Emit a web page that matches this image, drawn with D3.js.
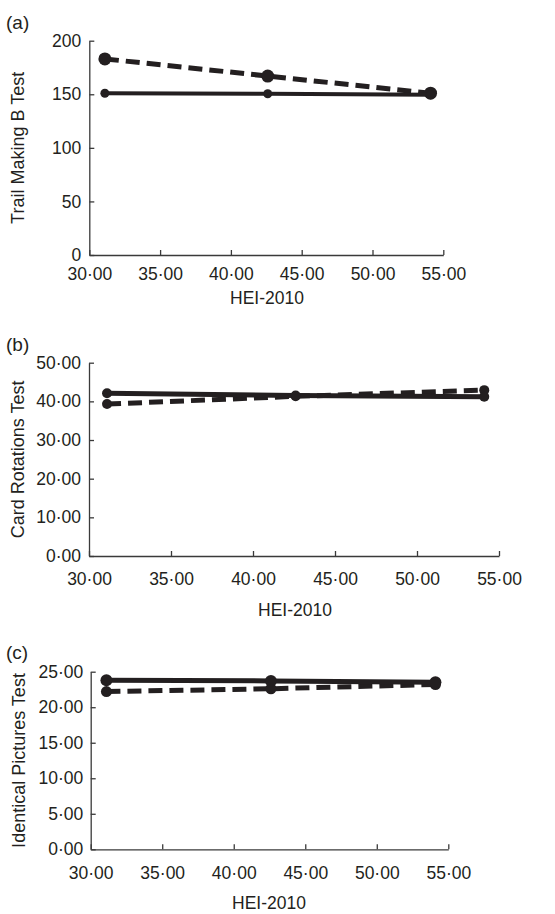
<!DOCTYPE html>
<html>
<head>
<meta charset="utf-8">
<script src="https://cdn.jsdelivr.net/npm/d3@7"></script>
<style>
  body { margin: 0; background: #fff; }
  text { font-family: "Liberation Sans", Arial, sans-serif; fill: #231f20; }
</style>
</head>
<body>
<div id="chart"></div>
<script>
// HEI-2010 levels (x) and scores for the two groups
var heiLevels = [31.1, 42.6, 54.1];
var xTicks = [30, 35, 40, 45, 50, 55];

var trailSolid = [151, 150.5, 149.5];
var trailDashed = [183, 167, 151];
var trailTicks = [0, 50, 100, 150, 200];

var cardSolid = [42.1, 41.5, 41.2];
var cardDashed = [39.3, 41.3, 42.9];
var cardTicks = [0, 10, 20, 30, 40, 50];

var identSolid = [23.8, 23.7, 23.5];
var identDashed = [22.2, 22.6, 23.2];
var identTicks = [0, 5, 10, 15, 20, 25];

var svg = d3.select("#chart")
  .append("svg")
    .attr("width", 555)
    .attr("height", 914);

var dot = function(v) { return d3.format(".2f")(v).replace(".", "\u00b7"); };

var panels = [
  {label: "(a)", title: "Trail Making B Test", solid: trailSolid, dashed: trailDashed,
   yTicks: trailTicks, yMax: 200, yFmt: d3.format("d"),
   x0: 89.3, x1: 443.3, y0: 255, y1: 40.7, xPad: 12.5, yPad: 8,
   labelY: 29, titleX: 18, xTitle: 267, xTitleY: 304, rS: 4.5, rD: 6.5, wS: 4, wD: 5},
  {label: "(b)", title: "Card Rotations Test", solid: cardSolid, dashed: cardDashed,
   yTicks: cardTicks, yMax: 50, yFmt: dot,
   x0: 89, x1: 499, y0: 556, y1: 362.7, xPad: 17, yPad: 8,
   labelY: 351, titleX: 18, xTitle: 295, xTitleY: 616, rS: 5, rD: 5, wS: 5, wD: 5},
  {label: "(c)", title: "Identical Pictures Test", solid: identSolid, dashed: identDashed,
   yTicks: identTicks, yMax: 25, yFmt: dot,
   x0: 90.7, x1: 448.3, y0: 849.3, y1: 671.7, xPad: 17, yPad: 7.5,
   labelY: 659, titleX: 19, xTitle: 269, xTitleY: 909, rS: 6, rD: 5.5, wS: 5, wD: 5}
];

panels.forEach(function(p) {
  var x = d3.scaleLinear().domain([30, 55]).range([p.x0, p.x1]);
  var y = d3.scaleLinear().domain([0, p.yMax]).range([p.y0, p.y1]);
  var g = svg.append("g");

  var xAxis = g.append("g")
    .attr("transform", `translate(0, ${p.y0})`)
    .call(d3.axisBottom(x).tickValues(xTicks).tickFormat(dot)
      .tickSizeInner(-5).tickSizeOuter(0).tickPadding(p.xPad));
  var yAxis = g.append("g")
    .attr("transform", `translate(${p.x0}, 0)`)
    .call(d3.axisLeft(y).tickValues(p.yTicks).tickFormat(p.yFmt)
      .tickSizeInner(-5).tickSizeOuter(0).tickPadding(p.yPad));
  [xAxis, yAxis].forEach(function(a) {
    a.attr("font-size", null).attr("font-family", null);
    a.selectAll("path, line").attr("stroke", "#3a3a3a").attr("stroke-width", 1.3);
    a.selectAll("text").style("font-size", "17.5px").attr("fill", "#231f20");
  });

  var line = d3.line()
    .x(function(d, i) { return x(heiLevels[i]); })
    .y(function(d) { return y(d); });

  g.append("path").datum(p.dashed)
    .attr("d", line).attr("fill", "none")
    .attr("stroke", "#231f20").attr("stroke-width", p.wD)
    .attr("stroke-dasharray", "14,7");
  g.selectAll(".dd").data(p.dashed).enter().append("circle")
    .attr("cx", function(d, i) { return x(heiLevels[i]); })
    .attr("cy", function(d) { return y(d); })
    .attr("r", p.rD).attr("fill", "#231f20");

  g.append("path").datum(p.solid)
    .attr("d", line).attr("fill", "none")
    .attr("stroke", "#231f20").attr("stroke-width", p.wS);
  g.selectAll(".sd").data(p.solid).enter().append("circle")
    .attr("cx", function(d, i) { return x(heiLevels[i]); })
    .attr("cy", function(d) { return y(d); })
    .attr("r", p.rS).attr("fill", "#231f20");

  svg.append("text")
    .attr("x", 6).attr("y", p.labelY)
    .style("font-size", "19px")
    .text(p.label);

  svg.append("text")
    .attr("transform", `translate(${p.titleX}, ${(p.y0 + p.y1) / 2}) rotate(-90)`)
    .attr("text-anchor", "middle")
    .attr("dy", "0.35em")
    .style("font-size", "18px")
    .text(p.title);

  svg.append("text")
    .attr("x", p.xTitle).attr("y", p.xTitleY)
    .attr("text-anchor", "middle")
    .style("font-size", "17.5px")
    .text("HEI-2010");
});
</script>
</body>
</html>
